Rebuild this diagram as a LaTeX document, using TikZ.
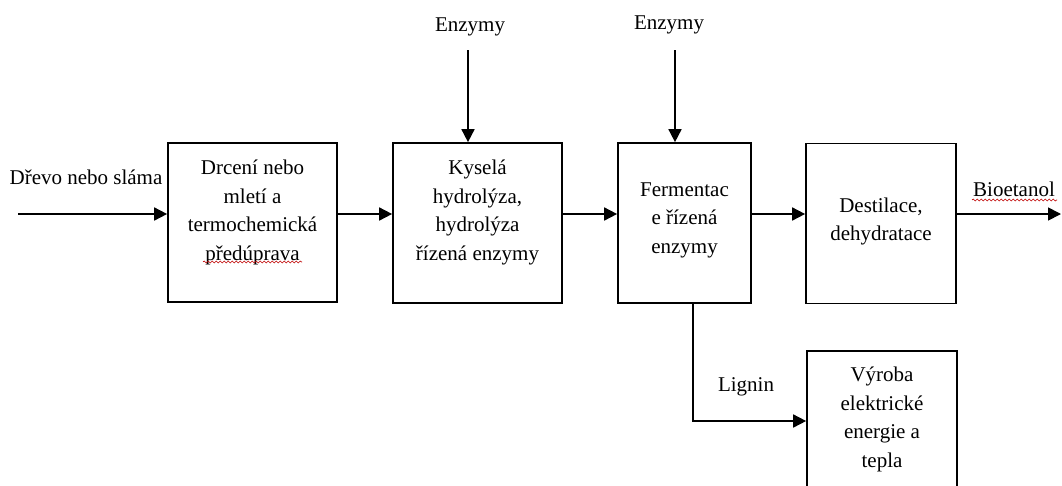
\documentclass[tikz,border=0pt]{standalone}
\usepackage{fontspec}
\setmainfont{Liberation Serif}
\usetikzlibrary{arrows.meta,decorations.pathmorphing}
\begin{document}
\begin{tikzpicture}[x=1pt,y=-1pt,
  box/.style={draw, line width=1.7pt, inner sep=0pt},
  txt/.style={align=center, font=\fontsize{21}{28.5}\selectfont, inner sep=0pt},
  flow/.style={-{Triangle[length=13pt,width=13pt]}, line width=1.7pt},
  spell/.style={draw=red!75!black, line width=0.6pt, decorate,
    decoration={snake, amplitude=1pt, segment length=4pt}}]
  \clip (0,0) rectangle (1062,485);
  \fill[white] (0,0) rectangle (1062,485);

  % process boxes
  \node[box, minimum width=169pt, minimum height=159pt] (b1) at (252.5,222.5) {};
  \node[box, minimum width=169pt, minimum height=160pt] (b2) at (477.5,223) {};
  \node[box, minimum width=133pt, minimum height=160pt] (b3) at (684.5,223) {};
  \node[box, minimum width=150pt, minimum height=160pt] (b4) at (881,223.5) {};
  \node[box, minimum width=150pt, minimum height=160pt] (b5) at (882,431) {};

  % box texts
  \node[txt] (t1) at (252.5,212.5) {Drcení nebo\\mletí a\\termochemická\\předúprava};
  \node[txt] (t2) at (477.5,212.5) {Kyselá\\hydrolýza,\\hydrolýza\\řízená enzymy};
  \node[txt] (t3) at (684.5,220) {Fermentac\\e řízená\\enzymy};
  \node[txt] (t4) at (881,221.5) {Destilace,\\dehydratace};
  \node[txt] (t5) at (882,419.5) {Výroba\\elektrické\\energie a\\tepla};

  % free labels
  \node[txt] (src) at (86,177) {Dřevo nebo sláma};
  \node[txt] (enz1) at (470,27) {Enzymy};
  \node[txt] (enz2) at (669,25) {Enzymy};
  \node[txt] (prod) at (1014,189) {Bioetanol};
  \node[txt] (lig) at (746,387) {Lignin};

  % main flow line
  \coordinate (mainflow) at (0,214);
  \coordinate (in) at (18,214);
  \coordinate (out) at (1061,214);
  \draw[flow] (in) -- (in -| b1.west);
  \draw[flow] (b1.east |- mainflow) -- (b2.west |- mainflow);
  \draw[flow] (b2.east |- mainflow) -- (b3.west |- mainflow);
  \draw[flow] (b3.east |- mainflow) -- (b4.west |- mainflow);
  \draw[flow] (b4.east |- mainflow) -- (out);

  % enzyme feeds
  \coordinate (e1) at (468,50);
  \coordinate (e2) at (675,50);
  \draw[flow] (e1) -- (e1 |- b2.north);
  \draw[flow] (e2) -- (e2 |- b3.north);

  % lignin branch
  \coordinate (lg) at (693,421);
  \draw[flow] (lg |- b3.south) -- (lg) -- (lg -| b5.west);

  % spell-check underlines
  \draw[spell] (203,262) -- (302,262);
  \draw[spell] (972,200) -- (1057,200);
\end{tikzpicture}
\end{document}
